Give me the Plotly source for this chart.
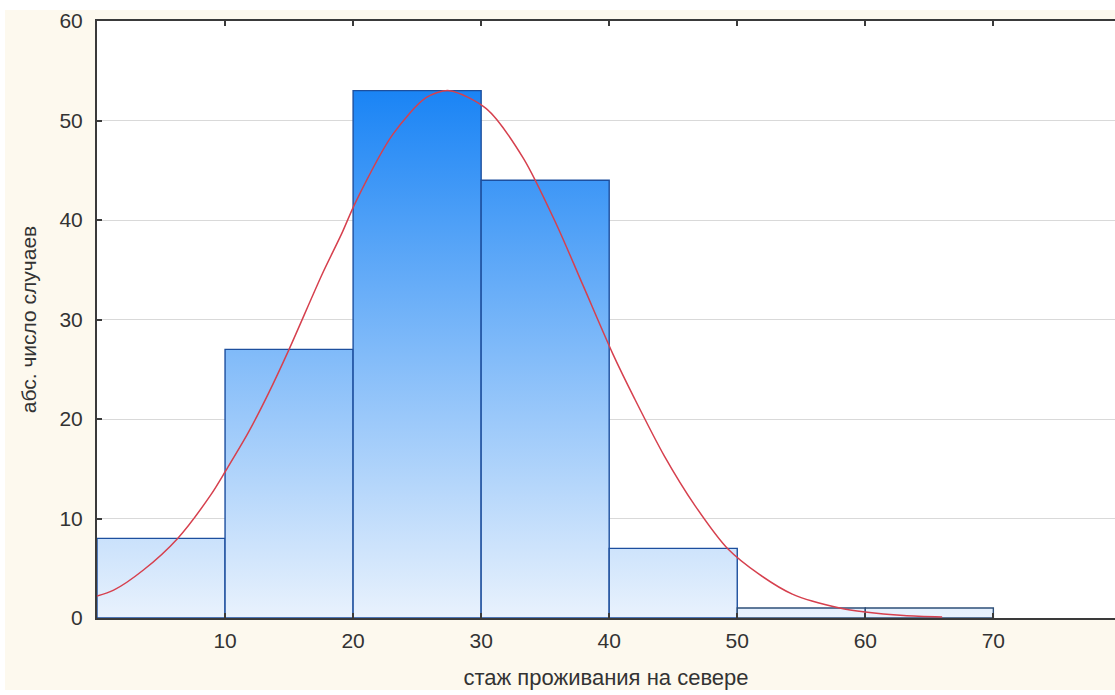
import plotly.graph_objects as go

# Histogram of residence length in the North
bin_edges = [0, 10, 20, 30, 40, 50, 60, 70]
counts = [8, 27, 53, 44, 7, 1, 1]

# Fitted normal curve, sampled along the x axis
curve_x = [0, 1.3, 3.6, 6.3, 8.9, 10.1, 11.8, 13.4, 15.0, 17.6, 19.1, 20.2,
           23.1, 25.7, 27.5, 30.4, 33.3, 35.9, 38.0, 40.3, 42.0, 44.3,
           46.7, 49.3, 51.7, 54.3, 58.0, 60.0, 63.0, 66.0]
curve_y = [2.2, 2.8, 4.8, 8.0, 12.4, 14.9, 18.6, 22.6, 27.0, 34.6, 38.6, 41.8,
           48.6, 52.3, 53.0, 51.2, 46.2, 39.5, 33.3, 26.5, 22.0, 16.3,
           11.3, 6.9, 4.4, 2.4, 1.0, 0.6, 0.25, 0.1]

y_ticks = [0, 10, 20, 30, 40, 50, 60]
x_ticks = [10, 20, 30, 40, 50, 60, 70]
x_title = "стаж проживания на севере"
y_title = "абс. число случаев"

FONT = "Liberation Sans, Arial, sans-serif"
CREAM = "#fdf9ee"
TEXT = "#333333"
AXIS = "#3a3a3a"

fig = go.Figure()

# Bars drawn as filled polygons so they can carry a vertical gradient
top = max(counts)
for lo, hi, c in zip(bin_edges[:-1], bin_edges[1:], counts):
    edge = "#1d4f9e" if c > 5 else "#2e4f78"
    fig.add_trace(go.Scatter(
        x=[lo, lo, hi, hi, lo],
        y=[0, c, c, 0, 0],
        mode="lines",
        fill="toself",
        fillgradient=dict(
            type="vertical",
            colorscale=[[0, "#e9f2fd"], [1, "#1a84f5"]],
            start=0,
            stop=top,
        ),
        line=dict(color=edge, width=1.4),
        hoverinfo="skip",
        showlegend=False,
    ))

fig.add_trace(go.Scatter(
    x=curve_x,
    y=curve_y,
    mode="lines",
    line=dict(color="#d6404e", width=1.5, shape="spline", smoothing=0.8),
    showlegend=False,
))

fig.update_layout(
    width=1115,
    height=695,
    margin=dict(l=97, r=0, t=21, b=77),
    paper_bgcolor=CREAM,
    plot_bgcolor="white",
    font=dict(family=FONT, size=21, color=TEXT),
    xaxis=dict(
        range=[0, 79.5],
        tickvals=x_ticks,
        ticktext=[str(v) for v in x_ticks],
        ticks="inside",
        ticklen=5,
        tickwidth=1.5,
        tickcolor=AXIS,
        showline=True,
        linecolor=AXIS,
        linewidth=2,
        mirror="ticks",
        showgrid=False,
        zeroline=False,
        tickfont=dict(size=21, color=TEXT),
        ticklabelstandoff=3,
        title=dict(text=x_title, font=dict(size=22, color=TEXT), standoff=18),
    ),
    yaxis=dict(
        range=[0, 60],
        tickvals=y_ticks,
        ticktext=[str(v) for v in y_ticks],
        ticks="inside",
        ticklen=5,
        tickwidth=1.5,
        tickcolor=AXIS,
        showline=True,
        linecolor=AXIS,
        linewidth=2,
        showgrid=True,
        gridcolor="#d9d9d9",
        gridwidth=1,
        zeroline=False,
        tickfont=dict(size=21, color=TEXT),
        ticklabelstandoff=8,
        title=dict(text=y_title, font=dict(size=21, color=TEXT), standoff=17),
    ),
    shapes=[
        # thin white border around the cream frame
        dict(type="rect", xref="paper", yref="paper", x0=-0.1, x1=1.0,
             y0=1.0184, y1=1.04, fillcolor="white", line=dict(width=0),
             layer="below"),
        dict(type="rect", xref="paper", yref="paper", x0=-0.1, x1=-0.0904,
             y0=-0.14, y1=1.04, fillcolor="white", line=dict(width=0),
             layer="below"),
        dict(type="rect", xref="paper", yref="paper", x0=-0.1, x1=1.0,
             y0=-0.14, y1=-0.1206, fillcolor="white", line=dict(width=0),
             layer="below"),
    ],
)

fig.write_html("out.html")
